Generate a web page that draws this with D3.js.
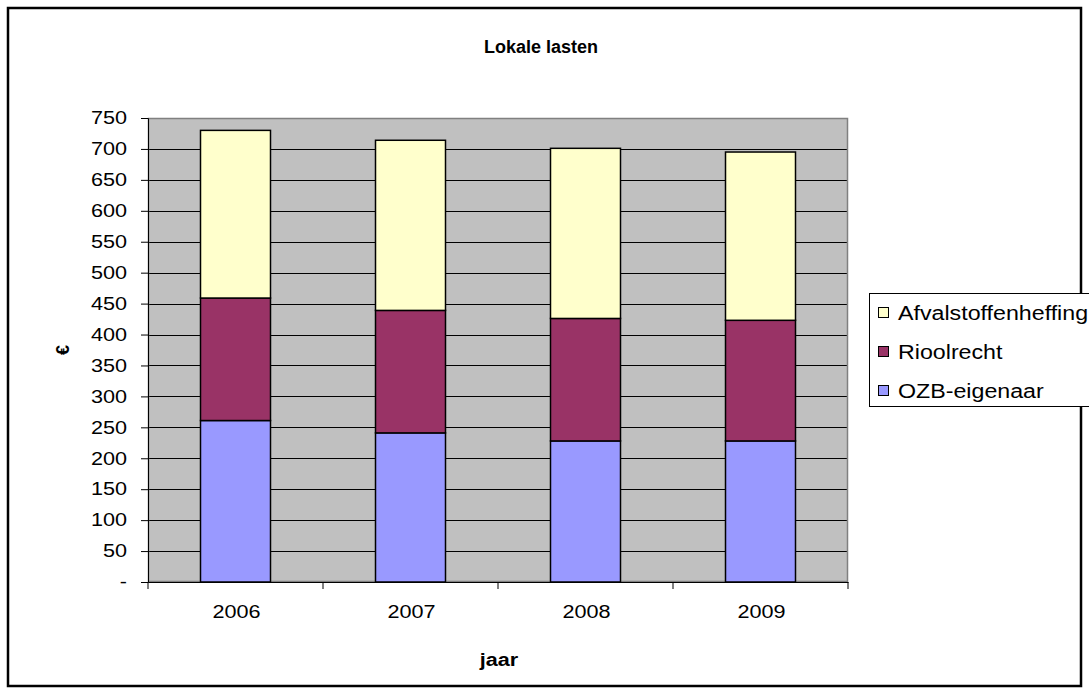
<!DOCTYPE html>
<html>
<head>
<meta charset="utf-8">
<script src="https://cdn.jsdelivr.net/npm/d3@7"></script>
<style>
  body { margin: 0; background: #fff; }
  text { font-family: "Liberation Sans", Arial, sans-serif; }
</style>
</head>
<body>
<div id="chart"></div>
<script>
// data
const years = ["2006", "2007", "2008", "2009"];
const ozb = [261, 241, 228, 228];
const riool = [198, 198, 198, 195];
const afval = [271, 275, 275, 272];
const seriesNames = ["OZB-eigenaar", "Rioolrecht", "Afvalstoffenheffing"];
const seriesColors = ["#9999FF", "#993366", "#FFFFCC"];
const yTicks = [0, 50, 100, 150, 200, 250, 300, 350, 400, 450, 500, 550, 600, 650, 700, 750];

const W = 1089, H = 693;
const margin = { top: 118, left: 148, right: 241, bottom: 111 };
const width = W - margin.left - margin.right,
  height = H - margin.top - margin.bottom;

// the original text is drawn a bit wider than the font, stretch it
function stretch(sel, k) {
  sel.each(function () {
    const len = this.getComputedTextLength();
    if (len > 0) {
      d3.select(this)
        .attr("textLength", len * k)
        .attr("lengthAdjust", "spacingAndGlyphs");
    }
  });
}

const svg = d3.select("#chart").append("svg")
  .attr("width", W)
  .attr("height", H);

// outer frame
svg.append("rect")
  .attr("x", 8).attr("y", 8)
  .attr("width", 1073).attr("height", 678)
  .attr("fill", "#fff")
  .attr("stroke", "#000")
  .attr("stroke-width", 2.5);

const rows = years.map((y, i) => ({ year: y, 0: ozb[i], 1: riool[i], 2: afval[i] }));
const stacked = d3.stack().keys([0, 1, 2])(rows);

const x = d3.scaleBand().domain(years).range([0, width]).paddingInner(0).paddingOuter(0);
const y = d3.scaleLinear().domain([0, 750]).range([height, 0]);

const g = svg.append("g").attr("transform", `translate(${margin.left},${margin.top})`);

// plot background
g.append("rect")
  .attr("width", width).attr("height", height)
  .attr("fill", "#C0C0C0");

// gridlines
g.selectAll("line.grid")
  .data(yTicks.filter(d => d > 0 && d < 750))
  .join("line")
  .attr("class", "grid")
  .attr("x1", 0).attr("x2", width)
  .attr("y1", d => Math.round(y(d)) + 0.5)
  .attr("y2", d => Math.round(y(d)) + 0.5)
  .attr("stroke", "#000")
  .attr("stroke-width", 1);

// plot border
g.append("rect")
  .attr("x", 0.5).attr("y", 0.5)
  .attr("width", width - 1).attr("height", height - 1)
  .attr("fill", "none")
  .attr("stroke", "#808080")
  .attr("stroke-width", 1.5);

// bars
const barW = x.bandwidth() * 0.4;
g.selectAll("g.series")
  .data(stacked)
  .join("g")
  .attr("class", "series")
  .attr("fill", (d, i) => seriesColors[i])
  .selectAll("rect")
  .data(d => d)
  .join("rect")
  .attr("x", d => x(d.data.year) + (x.bandwidth() - barW) / 2)
  .attr("y", d => y(d[1]))
  .attr("width", barW)
  .attr("height", d => y(d[0]) - y(d[1]))
  .attr("stroke", "#000")
  .attr("stroke-width", 1.5);

const labelFont = "'Liberation Sans', Arial, sans-serif";

// y axis
const yAxis = g.append("g")
  .call(d3.axisLeft(y).tickValues(yTicks).tickSize(7).tickPadding(14)
    .tickFormat(d => d === 0 ? "-" : d));
yAxis.select(".domain").attr("stroke", "#000");
yAxis.selectAll("text")
  .attr("font-size", 18).attr("fill", "#000")
  .style("font-family", labelFont)
  .call(stretch, 1.2);

// x axis: ticks at category boundaries
const xAxis = g.append("g").attr("transform", `translate(0,${height})`)
  .call(d3.axisBottom(x).tickSize(0));
xAxis.select(".domain").attr("stroke", "#000");
xAxis.selectAll("text")
  .attr("y", 36).attr("dy", 0)
  .attr("dx", 1)
  .attr("font-size", 18).attr("fill", "#000")
  .style("font-family", labelFont)
  .call(stretch, 1.2);
xAxis.selectAll("line.bound")
  .data(d3.range(years.length + 1))
  .join("line")
  .attr("class", "bound")
  .attr("x1", i => i * x.step()).attr("x2", i => i * x.step())
  .attr("y1", 0).attr("y2", 7)
  .attr("stroke", "#000");

// title and axis labels
svg.append("text")
  .attr("x", 541).attr("y", 53)
  .attr("text-anchor", "middle")
  .attr("font-size", 18).attr("font-weight", "bold")
  .text("Lokale lasten");

svg.append("text")
  .attr("x", margin.left + width / 2 + 1).attr("y", 666)
  .attr("text-anchor", "middle")
  .attr("font-size", 18).attr("font-weight", "bold")
  .text("jaar")
  .call(stretch, 1.2);

svg.append("text")
  .attr("transform", "translate(69,350) rotate(-90)")
  .attr("text-anchor", "middle")
  .attr("font-size", 18).attr("font-weight", "bold")
  .text("€");

// legend (reverse order like the stacked bars)
const legend = svg.append("g").attr("transform", "translate(869,293)");
legend.append("rect")
  .attr("x", 0.5).attr("y", 0.5)
  .attr("width", 240).attr("height", 113)
  .attr("fill", "#fff")
  .attr("stroke", "#000");
const items = legend.selectAll("g.item")
  .data([2, 1, 0])
  .join("g")
  .attr("class", "item")
  .attr("transform", (d, i) => `translate(9,${20 + i * 39})`);
items.append("rect")
  .attr("x", 0.5).attr("y", -5.5)
  .attr("width", 10).attr("height", 10)
  .attr("fill", d => seriesColors[d])
  .attr("stroke", "#000");
items.append("text")
  .attr("x", 20).attr("y", 7)
  .attr("font-size", 19.5)
  .text(d => seriesNames[d])
  .call(stretch, 1.19);
</script>
</body>
</html>
